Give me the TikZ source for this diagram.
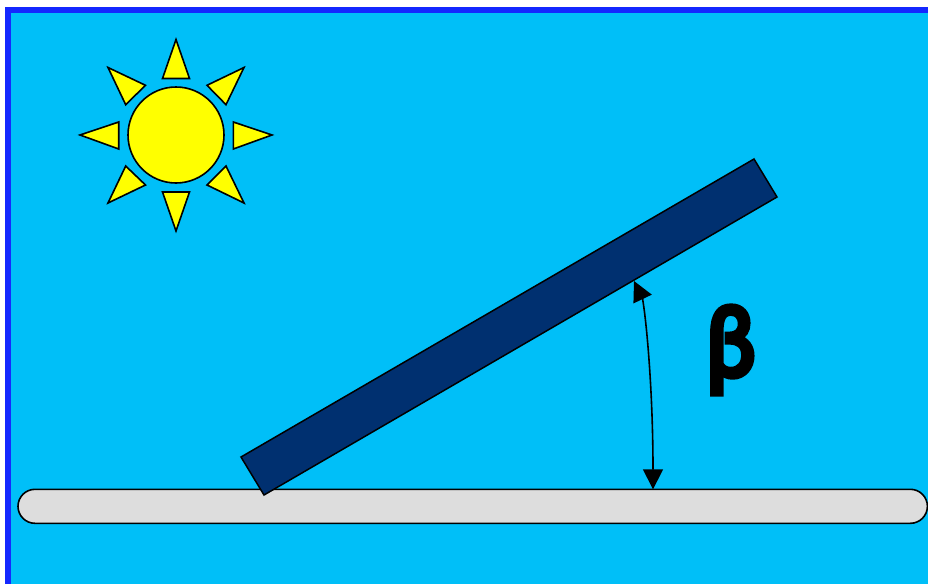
\documentclass[tikz,border=0pt]{standalone}
\usepackage{fontspec}
\newfontfamily\betafont[FakeBold=6.5]{Lato}
\usetikzlibrary{arrows.meta}
\definecolor{skyc}{RGB}{0,191,248}
\definecolor{framec}{RGB}{20,40,255}
\definecolor{panelc}{RGB}{0,48,112}
\definecolor{groundc}{RGB}{221,221,221}
\definecolor{sunc}{RGB}{255,255,0}
\tikzset{
  sunshape/.style={draw=black,fill=sunc,line width=1.6pt,line join=miter},
  panelshape/.style={draw=black,fill=panelc,line width=1.5pt},
  groundshape/.style={draw=black,fill=groundc,line width=1.6pt},
  anglearrow/.style={draw=black,line width=1.6pt,{Triangle[length=20pt,width=20pt]}-{Triangle[length=20pt,width=20pt]}},
}
\begin{document}
\begin{tikzpicture}[x=1pt,y=-1pt]
\useasboundingbox (0,0) rectangle (928,584);
\fill[white] (0,0) rectangle (928,584);
\fill[framec] (5,7) rectangle (928,584);
\fill[skyc] (11,13) rectangle (928,584);
% sun
\draw[sunshape] (176,135) circle[radius=48];
\draw[sunshape] (176,39.5) -- (162.5,78.5) -- (189.5,78.5) -- cycle;
\draw[sunshape] (176,231) -- (162.5,192) -- (189.5,192) -- cycle;
\draw[sunshape] (80,135) -- (118.7,122) -- (118.7,149) -- cycle;
\draw[sunshape] (272,135) -- (233.3,122) -- (233.3,149) -- cycle;
\draw[sunshape] (244,67.5) -- (207,85.3) -- (226,104.7) -- cycle;
\draw[sunshape] (108,67.5) -- (145.5,85.3) -- (125.7,104.7) -- cycle;
\draw[sunshape] (244,203) -- (207,185) -- (226,166) -- cycle;
\draw[sunshape] (108,203) -- (145.5,185) -- (125.7,166) -- cycle;
% ground
\draw[groundshape,rounded corners=17pt] (18,489.3) rectangle (927.4,523.3);
% panel
\draw[panelshape] (241,457) -- (754,159) -- (777,197) -- (264,495) -- cycle;
% angle
\coordinate (panelpoint) at (634,281);
\coordinate (groundpoint) at (653,489.3);
\draw[anglearrow] (panelpoint) -- (642.6,299) .. controls (647,325) and (653,395) .. (groundpoint);
\node[font=\betafont,xscale=0.9,inner sep=0pt,anchor=center] (betalabel) at (731,350) {\fontsize{96pt}{96pt}\selectfont β};
\end{tikzpicture}
\end{document}
